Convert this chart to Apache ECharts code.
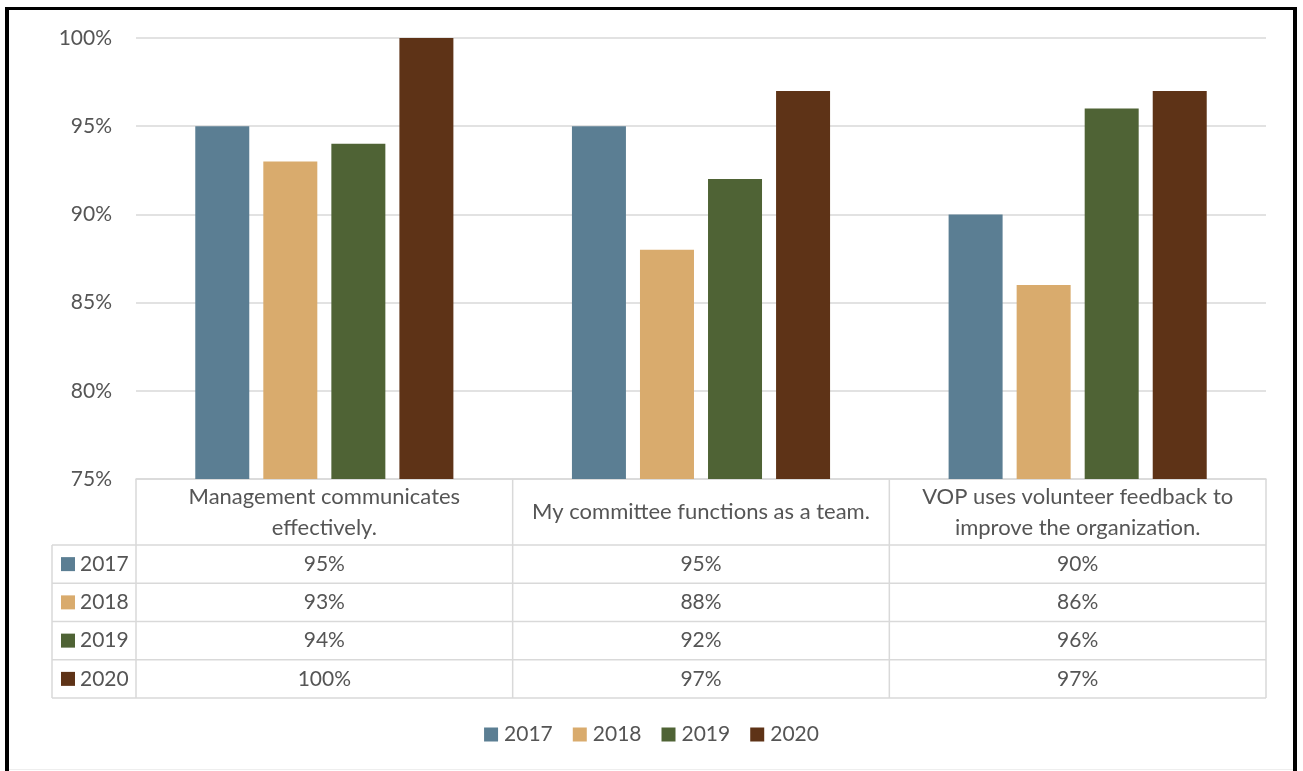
<!DOCTYPE html>
<html>
<head>
<meta charset="utf-8">
<script src="https://cdn.jsdelivr.net/npm/echarts@6/dist/echarts.min.js"></script>
<style>
  html, body { margin: 0; padding: 0; background: #ffffff; }
  #chart { width: 1303px; height: 771px; }
</style>
</head>
<body>
<div id="chart"></div>
<script>
// Survey statements (x categories)
const categories = [
  'Management communicates\neffectively.',
  'My committee functions as a team.',
  'VOP uses volunteer feedback to\nimprove the organization.'
];
// Survey years (series)
const years = ['2017', '2018', '2019', '2020'];
// Share of agreement per statement, one array per year
const values2017 = [0.95, 0.95, 0.90];
const values2018 = [0.93, 0.88, 0.86];
const values2019 = [0.94, 0.92, 0.96];
const values2020 = [1.00, 0.97, 0.97];
// Value axis ticks
const yMin = 0.75;
const yMax = 1.00;
const yStep = 0.05;

const seriesValues = [values2017, values2018, values2019, values2020];
const palette = ['#5b7e93', '#d9ab6d', '#4f6335', '#5e3317'];

const FONT = 'Lato, "Open Sans", sans-serif';
const TEXT = '#555555';
const LINE = '#d9d9d9';
const FS = 21;
const FS_HEAD = 22;

// Layout of the plot area and the data table underneath it
const gridLeft = 136, gridRight = 1266, gridTop = 38, gridBottom = 479;
const headerBottom = 545;
const rowHeight = 38.25;
const keyLeft = 52;

const pct = v => Math.round(v * 100) + '%';

const chart = echarts.init(document.getElementById('chart'), null, { renderer: 'canvas' });

chart.setOption({
  backgroundColor: '#ffffff',
  animation: false,
  color: palette,
  textStyle: { fontFamily: FONT },
  grid: {
    left: gridLeft,
    right: 1303 - gridRight,
    top: gridTop,
    bottom: 771 - gridBottom,
    containLabel: false
  },
  legend: {
    data: years,
    bottom: 21,
    left: 'center',
    icon: 'rect',
    itemWidth: 14,
    itemHeight: 14,
    itemGap: 20,
    textStyle: { color: TEXT, fontSize: FS, fontFamily: FONT, padding: [0, 0, 0, 1] }
  },
  xAxis: {
    type: 'category',
    data: categories,
    axisLine: { show: true, lineStyle: { color: LINE, width: 1.5 } },
    axisTick: { show: false },
    axisLabel: { show: false },
    splitLine: { show: false }
  },
  yAxis: {
    type: 'value',
    min: yMin,
    max: yMax,
    interval: yStep,
    axisLine: { show: false },
    axisTick: { show: false },
    axisLabel: {
      formatter: pct,
      color: TEXT,
      fontSize: FS,
      fontFamily: FONT,
      margin: 24
    },
    splitLine: { lineStyle: { color: LINE, width: 1.5 } }
  },
  series: years.map((y, i) => ({
    name: y,
    type: 'bar',
    data: seriesValues[i],
    barWidth: 54,
    barGap: '26%',
    itemStyle: { color: palette[i] }
  }))
});

// Data table drawn beneath the axis
function buildTable() {
  const centers = categories.map((c, i) => chart.convertToPixel({ xAxisIndex: 0 }, i));
  const band = (gridRight - gridLeft) / categories.length;
  const tableBottom = headerBottom + rowHeight * years.length;
  const els = [];
  const line = (x1, y1, x2, y2) => els.push({
    type: 'line',
    shape: { x1, y1, x2, y2 },
    style: { stroke: LINE, lineWidth: 1.5 },
    silent: true
  });

  // horizontal rules
  for (let r = 0; r <= years.length; r++) {
    const y = headerBottom + rowHeight * r;
    line(keyLeft, y, gridRight, y);
  }
  // vertical rules
  line(keyLeft, headerBottom, keyLeft, tableBottom);
  for (let k = 0; k <= categories.length; k++) {
    const x = gridLeft + band * k;
    line(x, gridBottom, x, tableBottom);
  }

  // column headers
  centers.forEach((cx, i) => {
    els.push({
      type: 'text',
      x: cx,
      y: (gridBottom + headerBottom) / 2,
      style: {
        text: categories[i],
        fill: TEXT,
        font: FS_HEAD + 'px ' + FONT,
        align: 'center',
        verticalAlign: 'middle',
        lineHeight: 31
      },
      silent: true
    });
  });

  // rows: key swatch, year, values
  years.forEach((yr, r) => {
    const cy = headerBottom + rowHeight * (r + 0.5);
    els.push({
      type: 'rect',
      shape: { x: 61, y: cy - 7, width: 14, height: 14 },
      style: { fill: palette[r] },
      silent: true
    });
    els.push({
      type: 'text',
      x: 80,
      y: cy,
      style: { text: yr, fill: TEXT, font: FS + 'px ' + FONT, align: 'left', verticalAlign: 'middle' },
      silent: true
    });
    centers.forEach((cx, i) => {
      els.push({
        type: 'text',
        x: cx,
        y: cy,
        style: { text: pct(seriesValues[r][i]), fill: TEXT, font: FS + 'px ' + FONT, align: 'center', verticalAlign: 'middle' },
        silent: true
      });
    });
  });

  // outer frame
  els.push({ type: 'rect', shape: { x: 5, y: 7, width: 4, height: 764 }, style: { fill: '#000' }, silent: true });
  els.push({ type: 'rect', shape: { x: 5, y: 7, width: 1292, height: 3 }, style: { fill: '#000' }, silent: true });
  els.push({ type: 'rect', shape: { x: 1293, y: 7, width: 4, height: 764 }, style: { fill: '#000' }, silent: true });
  els.push({ type: 'line', shape: { x1: 9, y1: 769.5, x2: 1293, y2: 769.5 }, style: { stroke: '#eeeeee', lineWidth: 1 }, silent: true });

  chart.setOption({ graphic: { elements: els } });
}

buildTable();
</script>
</body>
</html>
